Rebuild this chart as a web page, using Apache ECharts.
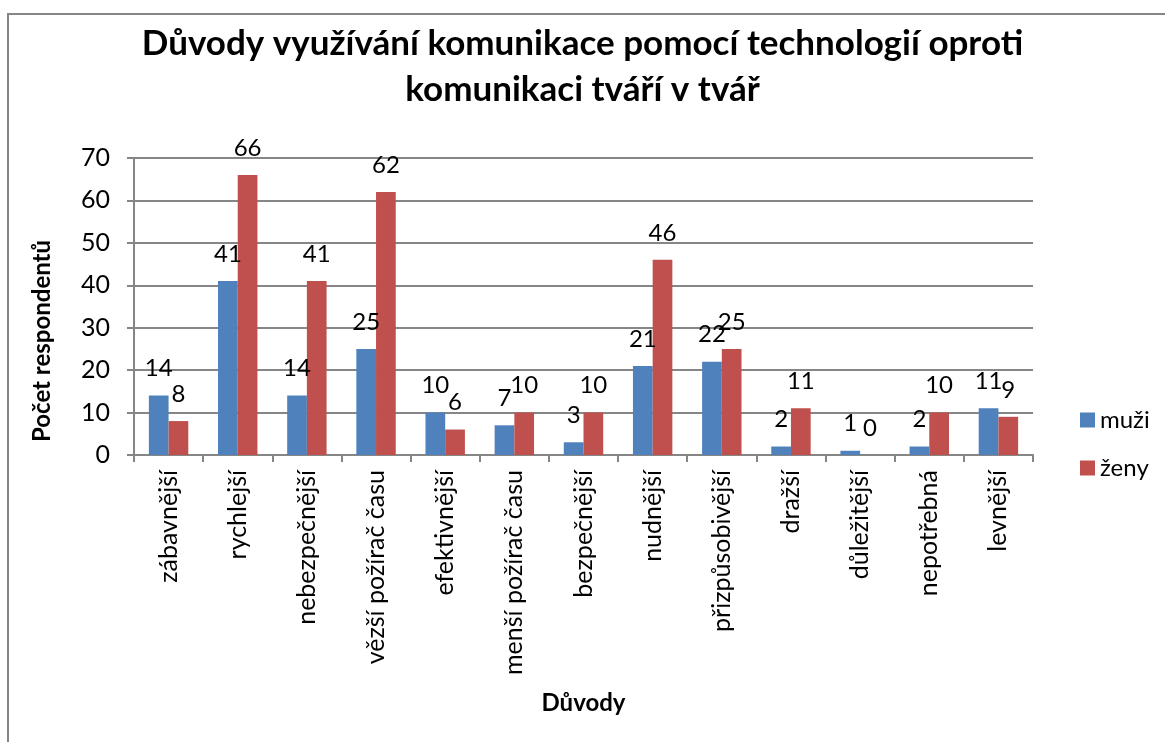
<!DOCTYPE html>
<html>
<head>
<meta charset="utf-8">
<script src="https://cdn.jsdelivr.net/npm/echarts@6/dist/echarts.min.js"></script>
<style>
  html, body { margin: 0; padding: 0; background: #fff; }
  #chart { width: 1165px; height: 742px; }
</style>
</head>
<body>
<div id="chart"></div>
<script>
const categories = ['zábavnější', 'rychlejší', 'nebezpečnější', 'vězší požírač času', 'efektivnější',
  'menší požírač času', 'bezpečnější', 'nudnější', 'přizpůsobivější', 'dražší', 'důležitější',
  'nepotřebná', 'levnější']
const muzi = [14, 41, 14, 25, 10, 7, 3, 21, 22, 2, 1, 2, 11]
const zeny = [8, 66, 41, 62, 6, 10, 10, 46, 25, 11, 0, 10, 9]
const yTicks = { min: 0, max: 70, interval: 10 }

const font = 'Lato, "Open Sans", sans-serif'
const gridColor = '#868686'

const chart = echarts.init(document.getElementById('chart'))

const labelStyle = {
  show: true,
  position: 'top',
  distance: 15,
  color: '#000',
  fontSize: 24,
  fontFamily: font
}

chart.setOption({
  animation: false,
  textStyle: { fontFamily: font },
  title: {
    text: 'Důvody využívání komunikace pomocí technologií oproti\nkomunikaci tváří v tvář',
    left: 'center',
    top: 16,
    textStyle: { fontSize: 35, fontWeight: 'bold', color: '#000', lineHeight: 46, fontFamily: font }
  },
  legend: {
    orient: 'vertical',
    left: 1075,
    top: 403,
    itemWidth: 15,
    itemHeight: 15,
    itemGap: 24,
    icon: 'rect',
    textStyle: { fontSize: 24, color: '#000', fontFamily: font },
    data: ['muži', 'ženy']
  },
  grid: { left: 134, right: 132, top: 158, bottom: 287 },
  xAxis: {
    type: 'category',
    data: categories,
    axisLine: { lineStyle: { color: gridColor, width: 2 } },
    axisTick: { show: true, length: 7, interval: 0, lineStyle: { color: gridColor, width: 2 } },
    axisLabel: { interval: 0, rotate: 90, margin: 15, fontSize: 25, color: '#000', fontFamily: font },
    name: 'Důvody',
    nameLocation: 'middle',
    nameGap: 236,
    nameTextStyle: { fontSize: 24, fontWeight: 'bold', color: '#000', fontFamily: font }
  },
  yAxis: {
    type: 'value',
    min: yTicks.min,
    max: yTicks.max,
    interval: yTicks.interval,
    axisLine: { show: true, lineStyle: { color: gridColor, width: 2 } },
    axisTick: { show: true, length: 7, lineStyle: { color: gridColor, width: 2 } },
    axisLabel: { margin: 24, fontSize: 25, color: '#000', fontFamily: font },
    splitLine: { lineStyle: { color: gridColor, width: 2 } }
  },
  graphic: [
    {
      type: 'rect',
      shape: { x: 8, y: 14, width: 1170, height: 740 },
      style: { fill: 'none', stroke: gridColor, lineWidth: 2 },
      silent: true
    },
    {
      type: 'text',
      x: 42,
      y: 341,
      rotation: Math.PI / 2,
      style: {
        text: 'Počet respondentů',
        fontSize: 24,
        fontWeight: 'bold',
        fontFamily: font,
        fill: '#000',
        align: 'center',
        verticalAlign: 'middle'
      }
    }
  ],
  series: [
    {
      name: 'muži',
      type: 'bar',
      data: muzi,
      barGap: '0%',
      barCategoryGap: '43%',
      itemStyle: { color: '#4F81BD' },
      label: labelStyle
    },
    {
      name: 'ženy',
      type: 'bar',
      data: zeny,
      itemStyle: { color: '#C0504D' },
      label: labelStyle
    }
  ]
})
</script>
</body>
</html>
